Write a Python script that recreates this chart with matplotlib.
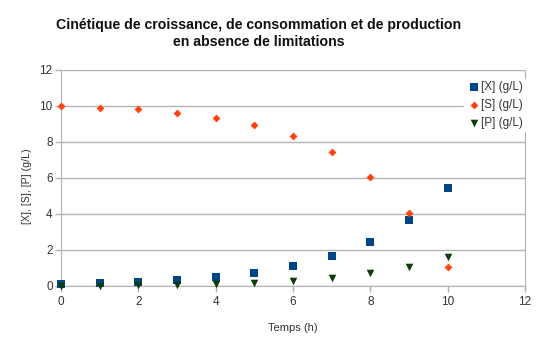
import matplotlib
matplotlib.use("Agg")
import matplotlib.pyplot as plt

temps = [0, 1, 2, 3, 4, 5, 6, 7, 8, 9, 10]
X = [0.10, 0.15, 0.22, 0.33, 0.49, 0.74, 1.10, 1.64, 2.45, 3.66, 5.46]
S = [10.0, 9.91, 9.81, 9.62, 9.35, 8.94, 8.33, 7.44, 6.08, 4.07, 1.07]
P = [0.0, 0.015, 0.04, 0.07, 0.12, 0.19, 0.30, 0.46, 0.71, 1.07, 1.61]
xticks = [0, 2, 4, 6, 8, 10, 12]
yticks = [0, 2, 4, 6, 8, 10, 12]

plt.rcParams['font.family'] = ['Liberation Sans', 'DejaVu Sans']

fig = plt.figure(figsize=(5.49, 3.49), dpi=100)
ax = fig.add_axes([61/549, 1-286/349, (525-61)/549, (286-70)/349])

grid_c = '#b3b3b3'
ax.scatter(temps, X, marker='s', s=28, color='#004586', label='[X] (g/L)', zorder=3, linewidths=0, clip_on=False)
ax.scatter(temps, S, marker='D', s=16, color='#ff420e', label='[S] (g/L)', zorder=3, linewidths=0, clip_on=False)
ax.scatter(temps, P, marker='v', s=30, color='#0a3d0a', label='[P] (g/L)', zorder=3, linewidths=0, clip_on=False)

ax.set_xlim(0, 12)
ax.set_ylim(0, 12)
ax.set_xticks(xticks)
ax.set_yticks(yticks)
ax.yaxis.grid(True, color=grid_c, linewidth=1)
ax.set_axisbelow(True)
for s in ['left', 'right', 'bottom']:
    ax.spines[s].set_color(grid_c)
ax.spines['top'].set_visible(False)
ax.tick_params(axis='both', colors=grid_c, labelcolor='#333333', labelsize=8.5, length=4, width=1)
ax.tick_params(axis='x', pad=3)
ax.tick_params(axis='y', pad=2)

ax.set_xlabel('Temps (h)', fontsize=8, color='#333333', labelpad=11)
ax.set_ylabel('[X], [S], [P] (g/L)', fontsize=7.7, color='#333333', labelpad=6)
ax.yaxis.set_label_coords(-0.062, 0.46)

fig.text(259/549, 1-25/349, 'Cinétique de croissance, de consommation et de production',
         ha='center', va='center', fontsize=10.2, fontweight='bold', color='#111111')
fig.text(259/549, 1-42.5/349, 'en absence de limitations',
         ha='center', va='center', fontsize=10.2, fontweight='bold', color='#111111')

leg = ax.legend(loc='upper right', bbox_to_anchor=(1.0, 0.96), frameon=True, fontsize=8.5,
                handletextpad=0.0, borderpad=0.2, labelspacing=0.5, handlelength=1.2,
                borderaxespad=0.0, fancybox=False, edgecolor='white', framealpha=1)
for t in leg.get_texts():
    t.set_color('#333333')

fig.savefig('out.png', dpi=100)
